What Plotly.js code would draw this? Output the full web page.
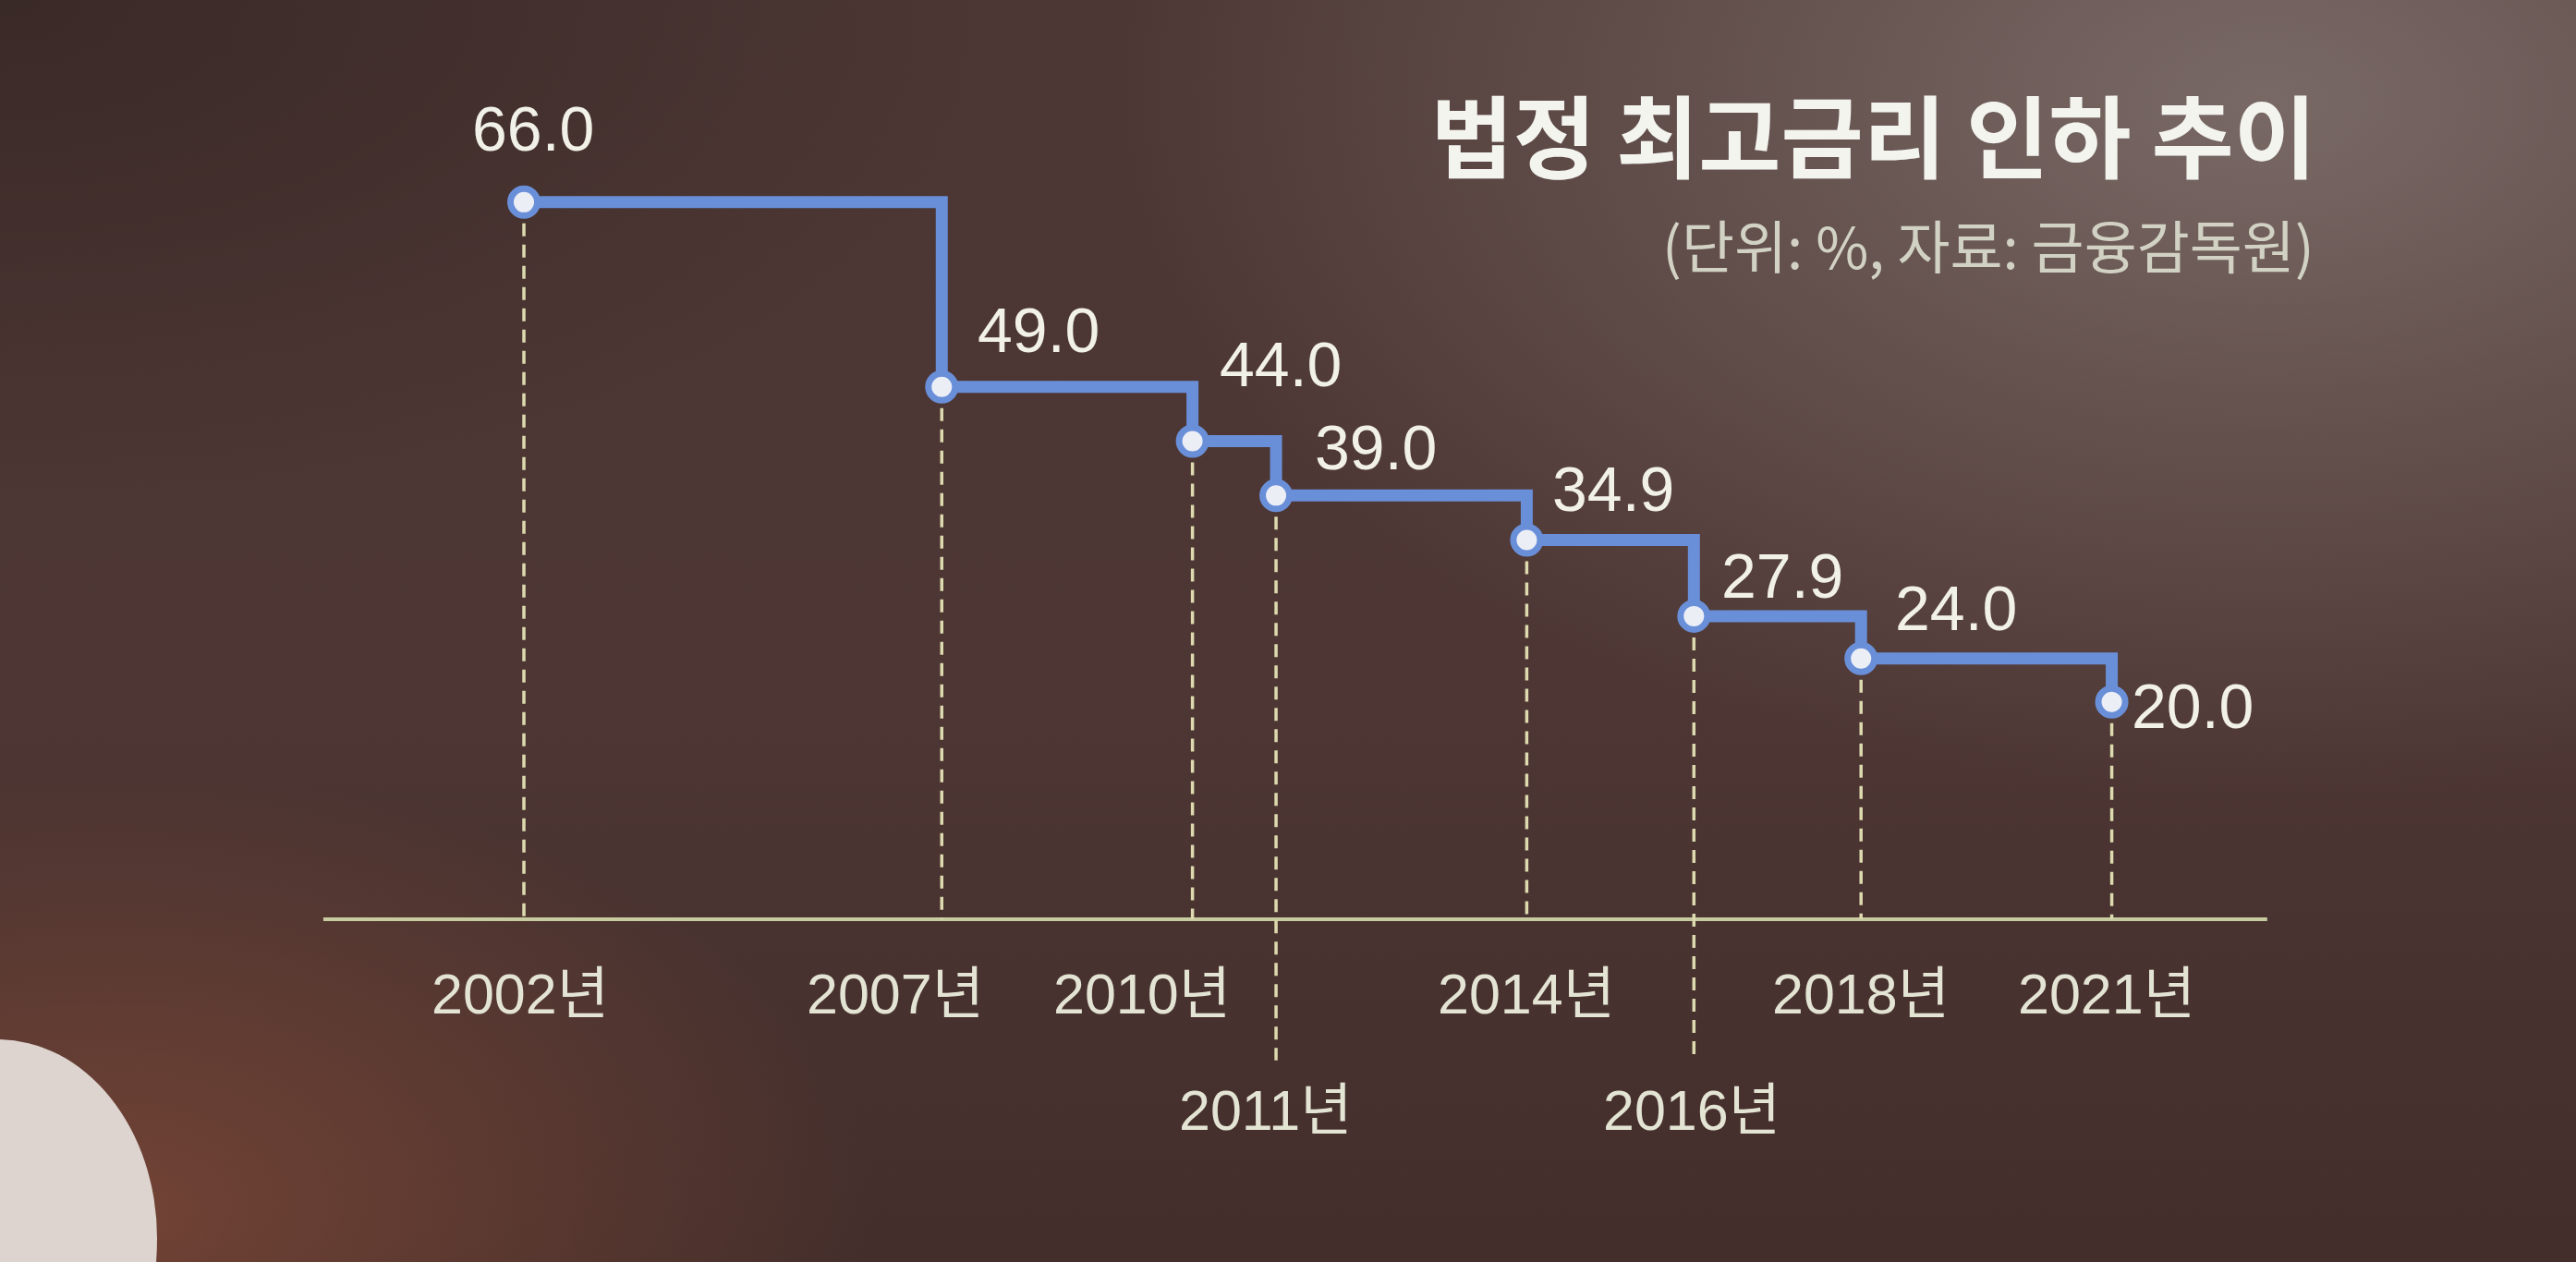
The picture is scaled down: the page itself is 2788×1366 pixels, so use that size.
<!DOCTYPE html>
<html>
<head>
<meta charset="utf-8">
<script src="https://cdn.plot.ly/plotly-3.0.1.min.js"></script>
<style>
  html, body { margin: 0; padding: 0; width: 2788px; height: 1366px; overflow: hidden; }
  body {
    position: relative;
    background:
      radial-gradient(ellipse 45% 55% at 88% 8%, rgba(140,126,122,0.7), rgba(140,126,122,0) 100%),
      radial-gradient(ellipse 30% 35% at 4% 96%, rgba(140,78,58,0.65), rgba(140,78,58,0) 100%),
      radial-gradient(ellipse 40% 40% at 0% 0%, rgba(40,28,26,0.5), rgba(40,28,26,0) 100%),
      linear-gradient(to bottom, #4c3734 0%, #4d3633 55%, #432e2b 100%);
  }
  #paper {
    position: absolute; left: -150px; top: 1125px; width: 320px; height: 430px;
    background: #ddd3cf; border-radius: 46% 54% 40% 60% / 38% 50% 50% 62%;
  }
  #chart { position: absolute; left: 0; top: 0; width: 2788px; height: 1366px; }
</style>
</head>
<body>
<div id="paper"></div>
<div id="chart"></div>
<script>
// ---- data ----
const years = [2002, 2007, 2010, 2011, 2014, 2016, 2018, 2021];
const rates = [66.0, 49.0, 44.0, 39.0, 34.9, 27.9, 24.0, 20.0];
const yearLabels = ['2002년', '2007년', '2010년', '2011년', '2014년', '2016년', '2018년', '2021년'];
const titleText = '법정 최고금리 인하 추이';
const subtitleText = '(단위: %, 자료: 금융감독원)';

// ---- layout helpers (positions / styles) ----
const labelRow = [0, 0, 0, 1, 0, 1, 0, 0];            // staggered tick label row
const tickShiftX = [-4, -50, -55, -12, 0, -2, 0, -6];   // px
const valueOffsets = [[10, -80], [105, -62], [95, -84], [108, -52], [94, -56], [96, -44], [103, -55], [87, 4]]; // px
const lowerDashEnd = -13;

const blue = '#6a8fd9';
const dashColor = '#dcdaae';
const textColor = '#f1f1e8';
const tickColor = '#e4e4d4';
const fontNum = '"Liberation Sans", Arial, "Noto Sans CJK KR", sans-serif';
const fontKr = '"Noto Sans CJK KR", "Liberation Sans", sans-serif';

// dashed drop lines
const dx = [], dy = [];
years.forEach((yr, i) => {
  dx.push(yr, yr, null);
  dy.push(rates[i], labelRow[i] ? lowerDashEnd : 0, null);
});

const traces = [
  {
    type: 'scatter', mode: 'lines', x: dx, y: dy, hoverinfo: 'skip',
    line: { color: dashColor, width: 3.5, dash: '14px,9px' }
  },
  {
    type: 'scatter', mode: 'lines+markers', x: years, y: rates,
    line: { shape: 'hv', color: blue, width: 13 },
    marker: { size: 29, color: '#eceef6', line: { color: blue, width: 7 } },
    cliponaxis: false
  }
];

const annotations = [];
years.forEach((yr, i) => {
  annotations.push({
    xref: 'x', yref: 'y', x: yr, y: rates[i], text: rates[i].toFixed(1),
    showarrow: false, xanchor: 'center', yanchor: 'middle',
    xshift: valueOffsets[i][0], yshift: -valueOffsets[i][1],
    font: { family: fontNum, size: 68, color: textColor }
  });
  annotations.push({
    xref: 'x', yref: 'y', x: yr, y: 0, text: yearLabels[i],
    showarrow: false, xanchor: 'center', yanchor: 'middle',
    xshift: tickShiftX[i], yshift: labelRow[i] ? -207 : -81,
    font: { family: fontNum, size: 61, color: tickColor }
  });
});
annotations.push({
  xref: 'paper', yref: 'paper', x: 2507 / 2788, y: 1 - 264 / 1366,
  xanchor: 'right', yanchor: 'middle', showarrow: false,
  text: subtitleText,
  font: { family: fontKr, size: 62, color: '#d2d2c4' }
});

const layout = {
  width: 2788, height: 1366,
  margin: { l: 0, r: 0, t: 0, b: 0, pad: 0 },
  paper_bgcolor: 'rgba(0,0,0,0)', plot_bgcolor: 'rgba(0,0,0,0)',
  showlegend: false,
  title: {
    text: titleText, x: 2507 / 2788, xanchor: 'right', xref: 'paper',
    y: 1 - 151 / 1366, yanchor: 'middle', yref: 'container',
    font: { family: fontKr, size: 97, color: '#f4f4ee', weight: 'bold' }
  },
  xaxis: { visible: false, range: [1995.731, 2026.555], fixedrange: true },
  yaxis: { visible: false, range: [-31.55, 84.61], fixedrange: true },
  shapes: [{
    type: 'line', xref: 'x', yref: 'y', x0: 1999.6, x1: 2022.86, y0: 0, y1: 0,
    line: { color: '#c8cba0', width: 4 }, layer: 'below'
  }],
  annotations: annotations
};

Plotly.newPlot('chart', traces, layout, { staticPlot: true, displayModeBar: false });
</script>
</body>
</html>
